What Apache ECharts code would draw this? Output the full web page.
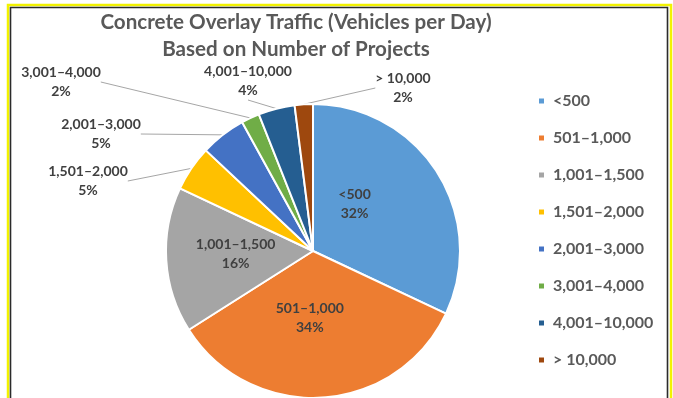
<!DOCTYPE html>
<html>
<head>
<meta charset="utf-8">
<style>
  html, body { margin: 0; padding: 0; background: #fff; }
  #chart { width: 673px; height: 398px; }
</style>
<script src="https://cdn.jsdelivr.net/npm/echarts@6/dist/echarts.min.js"></script>
</head>
<body>
<div id="chart"></div>
<script>
// Traffic ranges (vehicles per day) and share of projects (%)
const categories = ['<500', '501–1,000', '1,001–1,500', '1,501–2,000', '2,001–3,000', '3,001–4,000', '4,001–10,000', '> 10,000'];
const shares = [32, 34, 16, 5, 5, 2, 4, 2];
const colors = ['#5B9BD5', '#ED7D31', '#A5A5A5', '#FFC000', '#4472C4', '#70AD47', '#255E91', '#9E480E'];

// Small slices get their label outside, placed in a free spot around the pie
const outsideLabelSpots = {
  '1,501–2,000': [88, 181],
  '2,001–3,000': [101, 134],
  '3,001–4,000': [61, 82],
  '4,001–10,000': [248, 81],
  '> 10,000': [403, 88]
};
// Nudges for the labels drawn inside the big slices
const insideLabelNudges = {
  '<500': [-23, -6],
  '501–1,000': [-8, -9],
  '1,001–1,500': [-1, -2]
};

const FONT = 'Lato, "Open Sans", sans-serif';
const chart = echarts.init(document.getElementById('chart'));

const data = categories.map((name, i) => {
  const outside = outsideLabelSpots[name] != null;
  return {
    name: name,
    value: shares[i],
    itemStyle: { color: colors[i] },
    label: { position: outside ? 'outside' : 'inside' },
    labelLine: { show: outside }
  };
});

chart.setOption({
  animation: false,
  backgroundColor: '#ffffff',
  title: {
    text: 'Concrete Overlay Traffic (Vehicles per Day)\nBased on Number of Projects',
    left: 291,
    top: 4,
    textAlign: 'center',
    textStyle: {
      fontFamily: FONT,
      fontWeight: 'bold',
      fontSize: 20.6,
      lineHeight: 27,
      color: '#595959'
    }
  },
  legend: {
    orient: 'vertical',
    left: 532,
    top: 88,
    itemWidth: 7,
    itemHeight: 7,
    itemGap: 21,
    icon: 'rect',
    textStyle: {
      fontFamily: FONT,
      fontWeight: 'bold',
      fontSize: 16,
      color: '#595959',
      padding: [0, 0, 0, 3]
    },
    data: categories
  },
  graphic: [
    { type: 'rect', shape: { x: 8, y: 5, width: 663, height: 420 }, style: { fill: 'none', stroke: '#f2f200', lineWidth: 2.5 }, z: 10 },
    { type: 'rect', shape: { x: 10.5, y: 7.5, width: 657, height: 420 }, style: { fill: 'none', stroke: '#2b2b2b', lineWidth: 1.6 }, z: 10 }
  ],
  series: [{
    type: 'pie',
    center: [313, 251],
    radius: 147,
    startAngle: 90,
    clockwise: true,
    avoidLabelOverlap: false,
    itemStyle: { borderColor: '#ffffff', borderWidth: 2 },
    label: {
      formatter: '{b}\n{d}%',
      fontFamily: FONT,
      fontWeight: 'bold',
      fontSize: 14,
      lineHeight: 19,
      color: '#404040',
      align: 'center'
    },
    labelLine: {
      length: 10,
      length2: 0,
      lineStyle: { color: '#a6a6a6', width: 1 }
    },
    labelLayout: function (params) {
      const name = categories[params.dataIndex];
      const spot = outsideLabelSpots[name];
      if (spot) return { x: spot[0], y: spot[1], align: 'center', verticalAlign: 'middle' };
      const nudge = insideLabelNudges[name];
      if (nudge) return { dx: nudge[0], dy: nudge[1] };
      return {};
    },
    data: data
  }]
});
</script>
</body>
</html>
